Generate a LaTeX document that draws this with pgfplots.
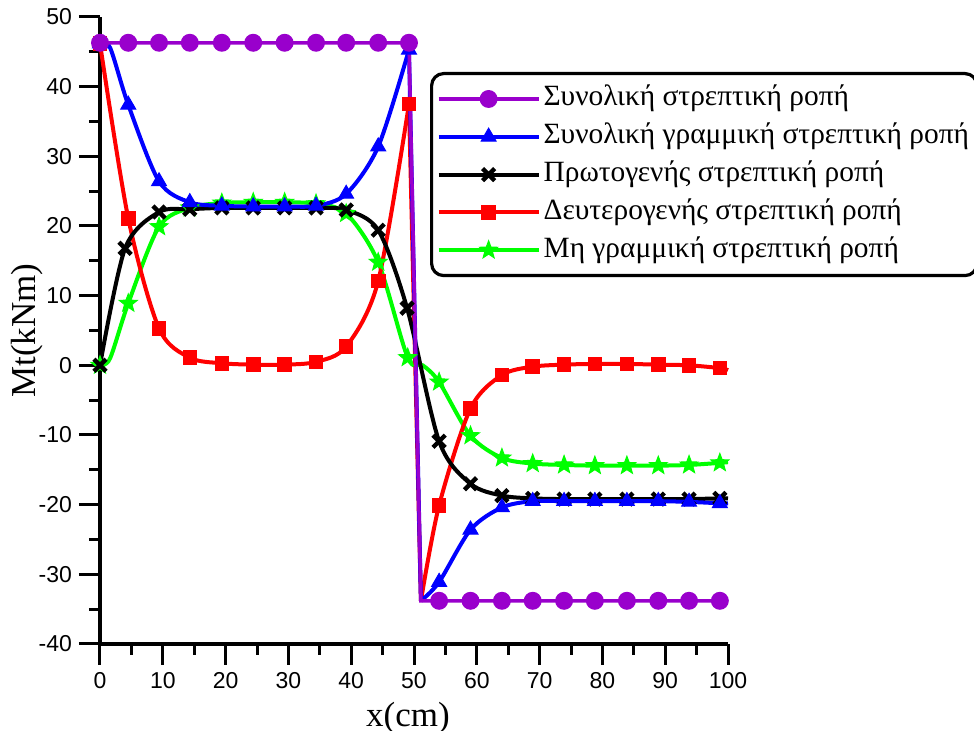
\documentclass[border=0pt]{standalone}
\usepackage{fontspec}
\setmainfont{Liberation Serif}
\newfontfamily\sansf{Liberation Sans}
\usepackage{pgfplots}
\pgfplotsset{compat=1.18}
\definecolor{cpurple}{RGB}{153,0,204}
\definecolor{cblue}{RGB}{0,0,255}
\definecolor{cred}{RGB}{255,0,0}
\definecolor{cgreen}{RGB}{0,255,0}
\pgfdeclareplotmark{fstar}{%
  \pgfpathmoveto{\pgfpointpolar{90}{\pgfplotmarksize}}%
  \pgfpathlineto{\pgfpointpolar{126}{0.42\pgfplotmarksize}}%
  \pgfpathlineto{\pgfpointpolar{162}{\pgfplotmarksize}}%
  \pgfpathlineto{\pgfpointpolar{198}{0.42\pgfplotmarksize}}%
  \pgfpathlineto{\pgfpointpolar{234}{\pgfplotmarksize}}%
  \pgfpathlineto{\pgfpointpolar{270}{0.42\pgfplotmarksize}}%
  \pgfpathlineto{\pgfpointpolar{306}{\pgfplotmarksize}}%
  \pgfpathlineto{\pgfpointpolar{342}{0.42\pgfplotmarksize}}%
  \pgfpathlineto{\pgfpointpolar{18}{\pgfplotmarksize}}%
  \pgfpathlineto{\pgfpointpolar{54}{0.42\pgfplotmarksize}}%
  \pgfpathclose
  \pgfusepathqfillstroke
}
\begin{document}
\begin{tikzpicture}
\useasboundingbox (-50pt,-43.5pt) rectangle (437pt,322pt);
\begin{axis}[
  scale only axis, width=314pt, height=313.5pt,
  xmin=0, xmax=100, ymin=-40, ymax=50,
  axis lines*=left,
  axis line style={line width=1.75pt},
  xtick={0,10,...,100}, ytick={-40,-30,...,50},
  minor x tick num=1, minor y tick num=1,
  tick align=outside,
  major tick length=10.5pt, minor tick length=5.5pt,
  tick style={line width=1.5pt, black},
  ticklabel style={font=\sansf\fontsize{11.5}{12}\selectfont},
  /pgf/number format/assume math mode=true,
  xlabel={x(cm)}, ylabel={Mt(kNm)},
  label style={font=\fontsize{17.5}{19}\selectfont},
  xlabel style={xshift=-3pt},
  ylabel shift=-9pt,
  clip=false,
  legend style={at={(0.5255,0.9123)}, anchor=north west, draw=black,
    line width=1.6pt, rounded corners=6pt,
    font=\fontsize{14.7}{18.5}\selectfont,
    inner xsep=2.5pt, inner ysep=3.5pt, row sep=0.5pt,
    nodes={text height=10.5pt, text depth=3.5pt, inner ysep=2.2pt, inner xsep=1.5pt}},
  legend cell align=left,
  legend image code/.code={\draw[sharp corners,mark repeat=2,mark phase=2,#1] plot coordinates {(0.5pt,0pt) (25.5pt,0pt) (50.5pt,0pt)};},
]
\addlegendimage{cpurple, line width=1.75pt, mark=*, mark size=3.6pt, mark options={solid, fill=cpurple}}
\addlegendentry{Συνολική στρεπτική ροπή}
\addlegendimage{cblue, line width=2pt, mark=triangle*, mark size=4.3pt, mark options={solid, fill=cblue, line width=0.5pt}}
\addlegendentry{Συνολική γραμμική στρεπτική ροπή}
\addlegendimage{black, line width=2pt, mark=x, mark size=4.3pt, mark options={solid, line width=2.2pt}}
\addlegendentry{Πρωτογενής στρεπτική ροπή}
\addlegendimage{cred, line width=2pt, mark=square*, mark size=3.4pt, mark options={solid, fill=cred, line width=0.5pt}}
\addlegendentry{Δευτερογενής στρεπτική ροπή}
\addlegendimage{cgreen, line width=2pt, mark=fstar, mark size=4.7pt, mark options={solid, fill=cgreen, line width=0.5pt}}
\addlegendentry{Μη γραμμική στρεπτική ροπή}

% green
\addplot[forget plot, cgreen, line width=2pt, smooth, mark=fstar, mark size=4.7pt,
  mark options={solid, fill=cgreen, line width=0.5pt},
  mark indices={1,3,4,5,6,7,8,9,10,11,12,14,15,16,17,18,19,20,21,22,23}] coordinates {
(0,0) (1.6,1.0) (4.5,8.9) (9.4,19.9) (14.3,22.6) (19.4,23.3) (24.4,23.4) (29.4,23.4)
(34.4,23.2) (39.2,21.8) (44.3,14.8) (49.0,1.1) (51.4,0.0) (54.0,-2.4) (59.0,-10.1)
(64.0,-13.3) (68.9,-14.1) (73.9,-14.3) (78.8,-14.4) (83.9,-14.4) (88.9,-14.4)
(93.8,-14.3) (98.7,-14.0) (100,-13.9)};

% red
\addplot[forget plot, cred, line width=2pt, smooth, mark=square*, mark size=3.4pt,
  mark options={solid, fill=cred, line width=0.5pt}] coordinates {
(0,46.2) (4.5,21.1) (9.4,5.3) (14.3,1.1) (19.4,0.3) (24.4,0.1) (29.4,0.1) (34.4,0.5)
(39.2,2.7) (44.3,12.1) (49.2,37.5)};
\addplot[forget plot, cred, line width=2pt] coordinates {(49.2,37.5) (51.1,-33.8)};
\addplot[forget plot, cred, line width=2pt, smooth, mark=square*, mark size=3.4pt,
  mark options={solid, fill=cred, line width=0.5pt}, mark indices={2,3,4,5,6,7,8,9,10,11}] coordinates {
(51.1,-33.8) (54.0,-20.1) (59.0,-6.2) (64.0,-1.4) (68.9,-0.2) (73.9,0.1) (78.8,0.2)
(83.9,0.2) (88.9,0.1) (93.8,0.0) (98.7,-0.4) (100,-0.7)};

% black
\addplot[forget plot, black, line width=2pt, smooth, mark=x, mark size=4.3pt,
  mark options={solid, line width=2.2pt},
  mark indices={1,2,3,4,5,6,7,8,9,10,11,12,13,14,15,16,17,18,19,20,21}] coordinates {
(0,0) (4.0,16.8) (9.4,22.0) (14.3,22.4) (19.4,22.6) (24.4,22.6) (29.4,22.6) (34.4,22.6)
(39.2,22.3) (44.3,19.4) (48.9,8.2) (54.0,-10.9) (59.0,-17.0) (64.0,-18.7) (68.9,-19.1)
(73.9,-19.2) (78.8,-19.2) (83.9,-19.2) (88.9,-19.2) (93.8,-19.2) (98.7,-19.1) (100,-19.1)};

% blue
\addplot[forget plot, cblue, line width=2pt, smooth, mark=triangle*, mark size=4.3pt,
  mark options={solid, fill=cblue, line width=0.5pt}, mark indices={1,3,4,5,6,7,8,9,10,11,12}] coordinates {
(0,46.2) (1.6,45.6) (4.5,37.4) (9.4,26.4) (14.3,23.4) (19.4,22.9) (24.4,22.8) (29.4,22.8)
(34.4,22.9) (39.2,24.6) (44.3,31.4) (49.2,45.3)};
\addplot[forget plot, cblue, line width=2pt] coordinates {(49.2,45.3) (51.1,-33.8)};
\addplot[forget plot, cblue, line width=2pt, smooth, mark=triangle*, mark size=4.3pt,
  mark options={solid, fill=cblue, line width=0.5pt}, mark indices={2,3,4,5,6,7,8,9,10,11}] coordinates {
(51.1,-33.8) (54.0,-31.1) (59.0,-23.6) (64.0,-20.4) (68.9,-19.5) (73.9,-19.5) (78.8,-19.5)
(83.9,-19.5) (88.9,-19.5) (93.8,-19.6) (98.7,-19.8) (100,-19.8)};

% purple
\addplot[forget plot, cpurple, line width=1.75pt, mark=*, mark size=3.6pt,
  mark options={solid, fill=cpurple},
  mark indices={1,2,3,4,5,6,7,8,9,10,11,13,14,15,16,17,18,19,20,21,22}] coordinates {
(0,46.3) (4.5,46.3) (9.4,46.3) (14.3,46.3) (19.4,46.3) (24.4,46.3) (29.4,46.3) (34.4,46.3)
(39.2,46.3) (44.3,46.3) (49.2,46.3) (51.1,-33.8) (54.0,-33.8) (59.0,-33.8) (64.0,-33.8)
(68.9,-33.8) (73.9,-33.8) (78.8,-33.8) (83.9,-33.8) (88.9,-33.8) (93.8,-33.8) (98.7,-33.8)
(100,-33.8)};
\end{axis}
\end{tikzpicture}
\end{document}
